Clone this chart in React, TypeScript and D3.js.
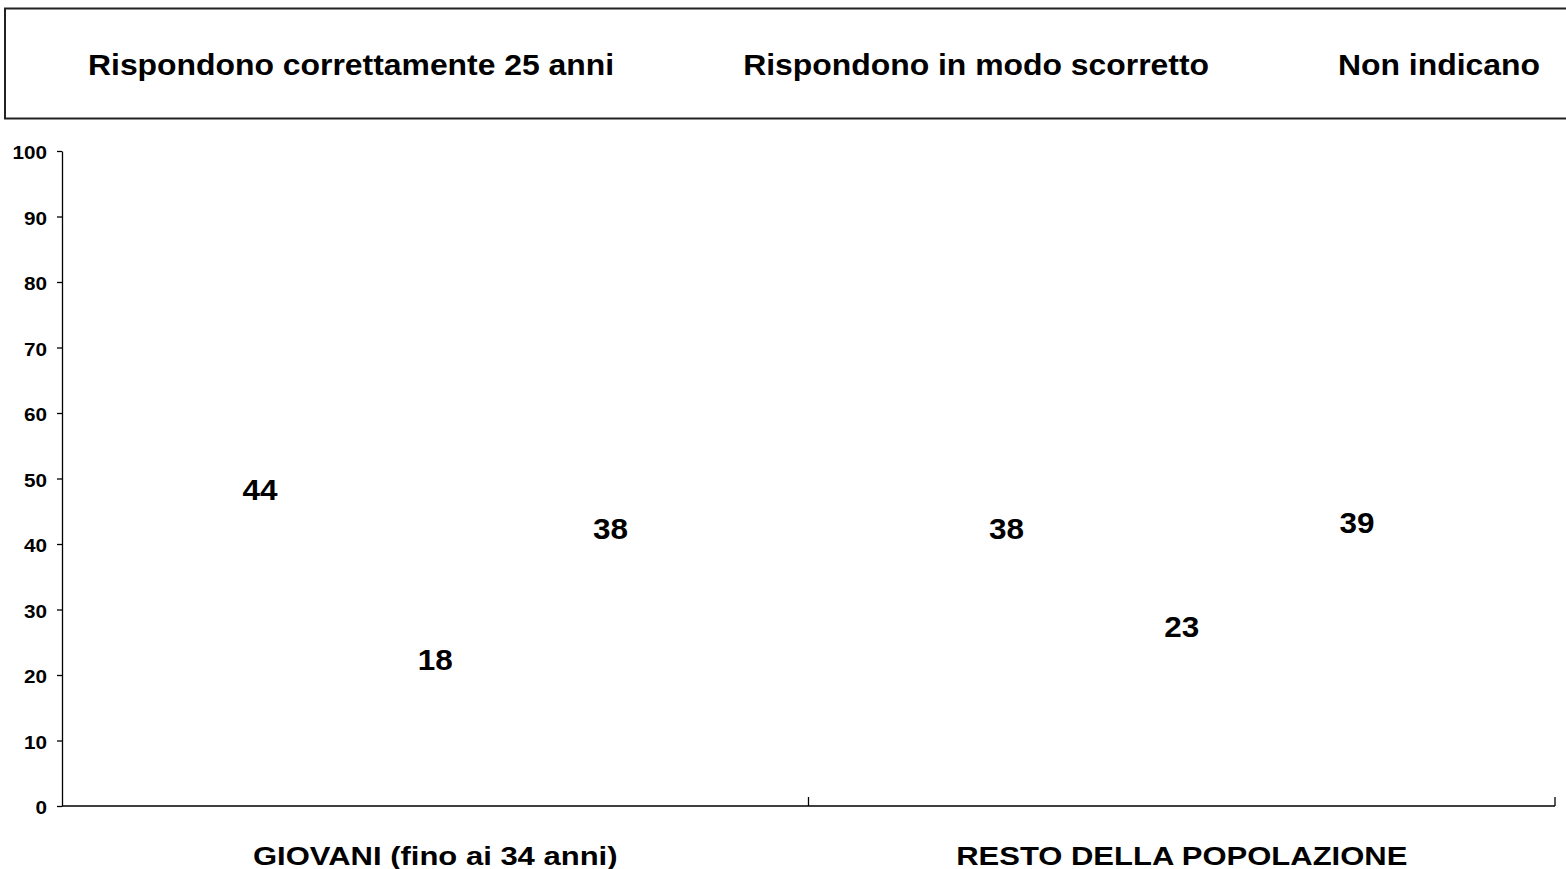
import { useEffect, useRef } from "react";
import * as d3 from "d3";

const categories = ["GIOVANI (fino ai 34 anni)", "RESTO DELLA POPOLAZIONE"];
const seriesNames = [
  "Rispondono correttamente 25 anni",
  "Rispondono in modo scorretto",
  "Non indicano",
];
const correctValues = [44, 38];
const incorrectValues = [18, 23];
const noAnswerValues = [38, 39];
const yTicks = [0, 10, 20, 30, 40, 50, 60, 70, 80, 90, 100];

const WIDTH = 1566;
const HEIGHT = 869;
const FONT = "'Liberation Sans', Arial, sans-serif";

export default function App() {
  const ref = useRef<SVGSVGElement | null>(null);

  useEffect(() => {
    if (!ref.current) return;
    const svg = d3.select(ref.current);
    svg.selectAll("*").remove();

    const margin = { top: 151, right: 11, bottom: 63, left: 62 };
    const series = [correctValues, incorrectValues, noAnswerValues];

    const x0 = d3
      .scaleBand<string>()
      .domain(categories)
      .range([margin.left, WIDTH - margin.right]);

    const x1 = d3
      .scaleBand<string>()
      .domain(seriesNames)
      .range([0, x0.bandwidth()])
      .paddingOuter(0.63);

    const y = d3
      .scaleLinear()
      .domain([0, 100])
      .range([HEIGHT - margin.bottom, margin.top]);

    // legend box (right edge runs off the picture)
    svg
      .append("rect")
      .attr("x", 5)
      .attr("y", 8.5)
      .attr("width", WIDTH + 10)
      .attr("height", 110)
      .attr("fill", "white")
      .attr("stroke", "#222")
      .attr("stroke-width", 2);

    let lx = 88;
    seriesNames.forEach((name) => {
      const g = svg.append("g").attr("transform", `translate(${lx},75) scale(1.1,1)`);
      const t = g
        .append("text")
        .attr("font-family", FONT)
        .attr("font-weight", "bold")
        .attr("font-size", 29)
        .attr("fill", "#000")
        .text(name);
      const w = (t.node() as SVGTextElement).getComputedTextLength() * 1.1;
      lx += w + 129;
    });

    // invisible bars + value labels
    categories.forEach((cat, ci) => {
      const g = svg.append("g").attr("transform", `translate(${x0(cat)},0)`);
      seriesNames.forEach((name, si) => {
        const v = series[si][ci];
        g.append("rect")
          .attr("x", x1(name)!)
          .attr("y", y(v))
          .attr("width", x1.bandwidth())
          .attr("height", y(0) - y(v))
          .attr("fill", "white");
        g.append("text")
          .attr("transform", `translate(${x1(name)! + x1.bandwidth() / 2},${y(v) - 18}) scale(1.05,1)`)
          .attr("text-anchor", "middle")
          .attr("font-family", FONT)
          .attr("font-weight", "bold")
          .attr("font-size", 30)
          .text(v);
      });
    });

    // y axis
    const yAxis = svg
      .append("g")
      .attr("transform", `translate(${margin.left},0)`)
      .call(d3.axisLeft(y).tickValues(yTicks).tickSize(5).tickSizeOuter(0));
    yAxis.select(".domain").attr("stroke", "#000").attr("stroke-width", 1.3);
    yAxis.selectAll(".tick line").attr("stroke", "#000").attr("stroke-width", 1.3);
    yAxis
      .selectAll(".tick text")
      .attr("transform", "scale(1.15,1)")
      .attr("x", -15 / 1.15)
      .attr("dy", "0.42em")
      .attr("font-family", FONT)
      .attr("font-weight", "bold")
      .attr("font-size", 18)
      .attr("fill", "#000");

    // x axis
    const y0 = y(0);
    svg
      .append("line")
      .attr("x1", margin.left)
      .attr("x2", WIDTH - margin.right)
      .attr("y1", y0)
      .attr("y2", y0)
      .attr("stroke", "#000")
      .attr("stroke-width", 1.3);
    const bounds = categories.map((c) => x0(c)! + x0.bandwidth());
    svg
      .selectAll(".xtick")
      .data(bounds)
      .join("line")
      .attr("x1", (d) => d)
      .attr("x2", (d) => d)
      .attr("y1", y0)
      .attr("y2", y0 - 9)
      .attr("stroke", "#000")
      .attr("stroke-width", 1.3);

    svg
      .selectAll(".xlabel")
      .data(categories)
      .join("text")
      .attr("transform", (d) => `translate(${x0(d)! + x0.bandwidth() / 2},865) scale(1.24,1)`)
      .attr("text-anchor", "middle")
      .attr("font-family", FONT)
      .attr("font-weight", "bold")
      .attr("font-size", 25)
      .text((d) => d);
  }, []);

  return (
    <svg
      ref={ref}
      width={WIDTH}
      height={HEIGHT}
      style={{ position: "absolute", left: 0, top: 0, background: "white" }}
    />
  );
}
